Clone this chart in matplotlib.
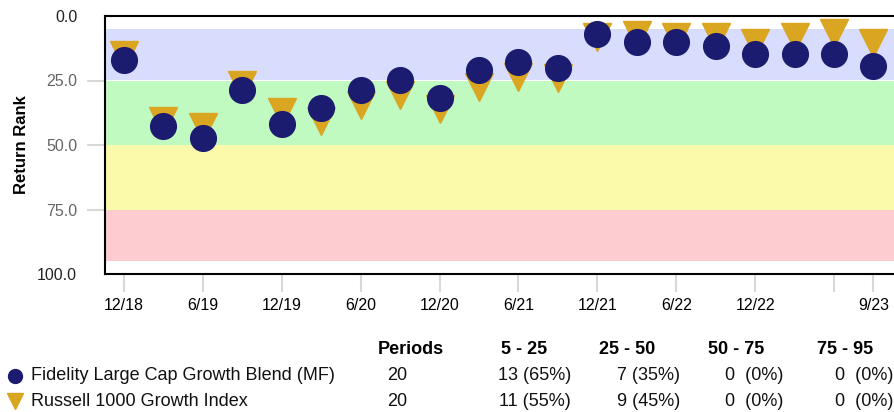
import matplotlib.pyplot as plt
import numpy as np

plt.rcParams['font.family'] = ['Liberation Sans', 'DejaVu Sans']

periods = ["12/18", "3/19", "6/19", "9/19", "12/19", "3/20", "6/20", "9/20", "12/20", "3/21",
           "6/21", "9/21", "12/21", "3/22", "6/22", "9/22", "12/22", "3/23", "6/23", "9/23"]
tick_labels = ["12/18", "", "6/19", "", "12/19", "", "6/20", "", "12/20", "",
               "6/21", "", "12/21", "", "6/22", "", "12/22", "", "", "9/23"]
fund_rank = [17.1, 42.5, 47.2, 28.7, 41.7, 35.5, 28.7, 24.8, 31.7, 21.1,
             18.0, 20.3, 7.1, 10.2, 10.2, 11.8, 14.9, 14.9, 14.9, 19.5]
index_rank = [15.2, 40.6, 42.9, 26.7, 37.3, 40.7, 34.6, 30.7, 36.2, 27.5,
              23.6, 23.9, 8.2, 7.4, 8.1, 8.1, 10.5, 8.1, 6.6, 10.5]

band_edges = [5, 25, 50, 75, 95]
band_colors = ["#D9DDFD", "#C0FAC0", "#FAFAAA", "#FCCCD0"]

fund_name = "Fidelity Large Cap Growth Blend (MF)"
index_name = "Russell 1000 Growth Index"
headers = ["Periods", "5 - 25", "25 - 50", "50 - 75", "75 - 95"]
fund_stats = ["20", "13 (65%)", "7 (35%)", "0  (0%)", "0  (0%)"]
index_stats = ["20", "11 (55%)", "9 (45%)", "0  (0%)", "0  (0%)"]

navy = "#1B1B6F"
gold = "#DAA520"

fig = plt.figure(figsize=(8.94, 4.12), dpi=100)
ax = fig.add_axes([105 / 894, 138 / 412, 1 - 105 / 894, 258 / 412])

for i in range(len(band_colors)):
    ax.axhspan(band_edges[i], band_edges[i + 1], color=band_colors[i], lw=0, zorder=0)

x = np.arange(len(periods))
ax.plot(x, index_rank, linestyle="none", marker="v", markersize=20, color=gold, zorder=2)
ax.plot(x, fund_rank, linestyle="none", marker="o", markersize=18.5, color=navy, zorder=3)

ax.set_xlim(-0.48, 19.52)
ax.set_ylim(100, 0)
ax.set_yticks([0, 25, 50, 75, 100])
ax.set_yticklabels(["0.0", "25.0", "50.0", "75.0", "100.0"], fontsize=11.5)
ax.set_xticks(x)
ax.set_xticklabels(tick_labels, fontsize=11.5)

ax.tick_params(axis="x", direction="out", length=13, color="#D8D8D8", width=1.5, pad=4)
ax.tick_params(axis="y", direction="out", length=13, color="#D8D8D8", width=1.5, pad=7)
for i, lbl in enumerate(ax.get_yticklabels()):
    lbl.set_color("#222222" if i in (0, 4) else "#666666")
yticks = ax.yaxis.get_major_ticks()
yticks[0].tick1line.set_visible(False)
yticks[4].tick1line.set_visible(False)
for i, t in enumerate(ax.xaxis.get_major_ticks()):
    if i % 2 == 1 and i != 19:
        t.tick1line.set_visible(False)
ax.xaxis.get_major_ticks()[18].tick1line.set_visible(True)

for s in ["top", "bottom", "left"]:
    ax.spines[s].set_linewidth(1.5)
ax.spines["right"].set_visible(False)

ax.set_ylabel("Return Rank", fontsize=12, fontweight="bold", labelpad=6)

# table under the chart
def fx(px):
    return px / 894

def fy(py):
    return 1 - py / 412

fig.text(fx(411), fy(349), headers[0], fontsize=13, fontweight="bold", ha="center", va="center")
head_x = [501, 599, 708, 817]
for hx, h in zip(head_x, headers[1:]):
    fig.text(fx(hx), fy(349), h, fontsize=13, fontweight="bold", ha="left", va="center")

val_x = [407, 571, 680, 783, 893]
for row_y, stats in [(376, fund_stats), (402, index_stats)]:
    for vx, s in zip(val_x, stats):
        fig.text(fx(vx), fy(row_y), s, fontsize=13, ha="right", va="center", color="#111111")

fig.text(fx(31), fy(376), fund_name, fontsize=13, ha="left", va="center", color="#111111")
fig.text(fx(31), fy(402), index_name, fontsize=13, ha="left", va="center", color="#111111")
fig.lines.append(plt.Line2D([fx(15)], [fy(376)], marker="o", markersize=10, color=navy,
                            transform=fig.transFigure, linestyle="none"))
fig.lines.append(plt.Line2D([fx(15)], [fy(401)], marker="v", markersize=11, color=gold,
                            transform=fig.transFigure, linestyle="none"))

fig.savefig("out.png", dpi=100)
